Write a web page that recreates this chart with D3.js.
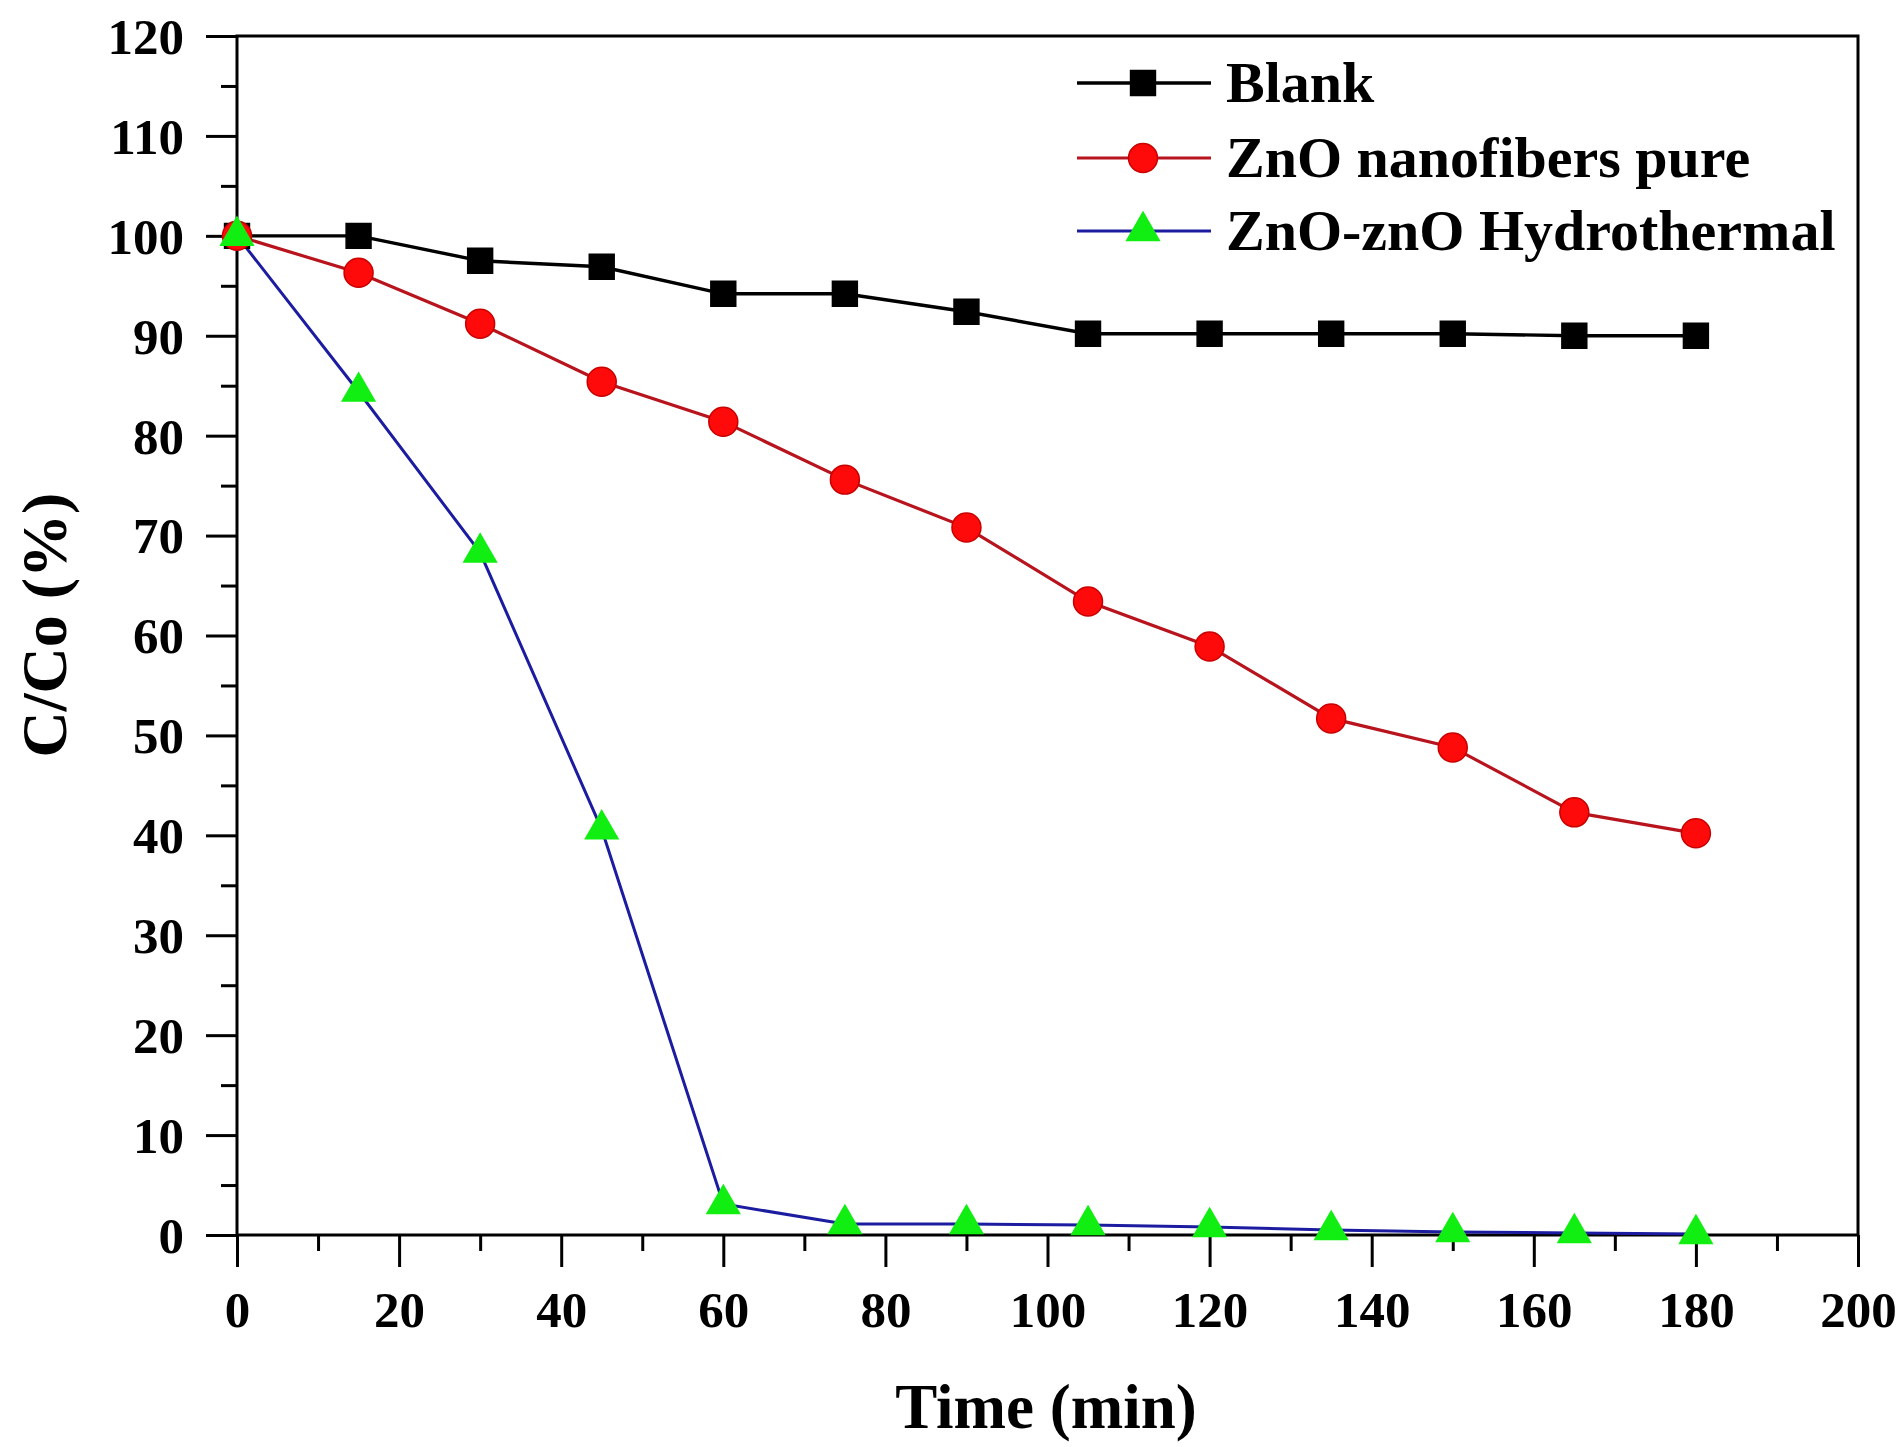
<!DOCTYPE html>
<html lang="en">
  <head>
    <meta charset="UTF-8" />
    <title>C/Co vs time</title>
    <script src="https://cdn.jsdelivr.net/npm/d3@7"></script>
    <style>
      body { margin: 0; background: #fff; }
      svg text { font-family: "Liberation Serif", "Times New Roman", serif; font-weight: bold; fill: #000; }
    </style>
  </head>
  <body>
    <div class="chart"></div>
    <script>
      // values
      const times = [0, 15, 30, 45, 60, 75, 90, 105, 120, 135, 150, 165, 180];
      const blank = [100, 100, 97.5, 96.9, 94.2, 94.2, 92.4, 90.2, 90.2, 90.2, 90.2, 90.0, 90.0];
      const znoPure = [100, 96.3, 91.2, 85.4, 81.4, 75.6, 70.8, 63.4, 58.9, 51.7, 48.8, 42.3, 40.2];
      const znoHydro = [100, 84.4, 68.3, 40.6, 3.1, 1.1, 1.1, 1.0, 0.8, 0.5, 0.3, 0.2, 0.1];
      const seriesNames = ["Blank", "ZnO nanofibers pure", "ZnO-znO Hydrothermal"];
      const xTicks = [0, 20, 40, 60, 80, 100, 120, 140, 160, 180, 200];
      const yTicks = [0, 10, 20, 30, 40, 50, 60, 70, 80, 90, 100, 110, 120];

      const width = 1904;
      const height = 1447;

      const svg = d3
        .select(".chart")
        .append("svg")
        .attr("width", width)
        .attr("height", height);

      const x = d3.scaleLinear().domain([0, 200]).range([237, 1858]);
      const y = d3.scaleLinear().domain([0, 120]).range([1235, 36]);

      const series = [
        { name: seriesNames[0], values: blank, line: "#000", fill: "#000", stroke: "#000", symbol: d3.symbolSquare, size: 620, lw: 3.4 },
        { name: seriesNames[1], values: znoPure, line: "#b8141e", fill: "#ff0a0a", stroke: "#c80000", symbol: d3.symbolCircle, size: 660, lw: 3.2 },
        { name: seriesNames[2], values: znoHydro, line: "#1c1ca0", fill: "#11ee11", stroke: "#11ee11", symbol: d3.symbolTriangle, size: 460, lw: 3 },
      ];

      // minor ticks (no labels)
      const xMinor = d3.range(10, 200, 20);
      const yMinor = d3.range(5, 120, 10);

      svg.append("g")
        .attr("transform", `translate(0, ${y(0)})`)
        .call(d3.axisBottom(x).tickValues(xMinor).tickSize(16).tickSizeOuter(0).tickFormat(""));
      svg.append("g")
        .attr("transform", `translate(${x(0)}, 0)`)
        .call(d3.axisLeft(y).tickValues(yMinor).tickSize(16).tickSizeOuter(0).tickFormat(""));

      const xAxis = svg.append("g")
        .attr("transform", `translate(0, ${y(0)})`)
        .call(d3.axisBottom(x).tickValues(xTicks).tickSize(32).tickSizeOuter(0).tickPadding(24));
      const yAxis = svg.append("g")
        .attr("transform", `translate(${x(0)}, 0)`)
        .call(d3.axisLeft(y).tickValues(yTicks).tickSize(31).tickSizeOuter(0).tickPadding(22));

      svg.selectAll(".tick line").attr("stroke", "#000").attr("stroke-width", 3);
      svg.selectAll(".domain").remove();
      xAxis.selectAll("text").style("font-size", "51px").attr("dy", "0.7em");
      yAxis.selectAll("text").style("font-size", "51px").attr("dy", "0.34em");

      // frame
      svg.append("rect")
        .attr("x", x(0))
        .attr("y", y(120))
        .attr("width", x(200) - x(0))
        .attr("height", y(0) - y(120))
        .attr("fill", "none")
        .attr("stroke", "#000")
        .attr("stroke-width", 3);

      const line = d3.line()
        .x((d, i) => x(times[i]))
        .y((d) => y(d));

      series.forEach((s) => {
        svg.append("path")
          .datum(s.values)
          .attr("fill", "none")
          .attr("stroke", s.line)
          .attr("stroke-width", s.lw)
          .attr("d", line);
      });

      series.forEach((s) => {
        svg.append("g")
          .selectAll("path")
          .data(s.values)
          .enter()
          .append("path")
          .attr("transform", (d, i) => `translate(${x(times[i])}, ${y(d)})`)
          .attr("d", d3.symbol().type(s.symbol).size(s.size))
          .attr("fill", s.fill)
          .attr("stroke", s.stroke)
          .attr("stroke-width", 1.5);
      });

      // legend
      const legendRows = [83, 158, 231];
      const legend = svg.append("g");
      series.forEach((s, i) => {
        const g = legend.append("g").attr("transform", `translate(0, ${legendRows[i]})`);
        g.append("line")
          .attr("x1", 1077)
          .attr("x2", 1211)
          .attr("stroke", s.line)
          .attr("stroke-width", s.lw);
        g.append("path")
          .attr("transform", "translate(1143, 0)")
          .attr("d", d3.symbol().type(s.symbol).size(s.size))
          .attr("fill", s.fill)
          .attr("stroke", s.stroke)
          .attr("stroke-width", 1.5);
        g.append("text")
          .attr("x", 1226)
          .attr("y", 19)
          .style("font-size", "58px")
          .text(s.name);
      });

      // axis titles
      svg.append("text")
        .attr("x", 1046)
        .attr("y", 1428)
        .attr("text-anchor", "middle")
        .style("font-size", "63px")
        .text("Time (min)");

      svg.append("text")
        .attr("transform", "translate(66, 625) rotate(-90)")
        .attr("text-anchor", "middle")
        .style("font-size", "64px")
        .text("C/Co (%)");
    </script>
  </body>
</html>
